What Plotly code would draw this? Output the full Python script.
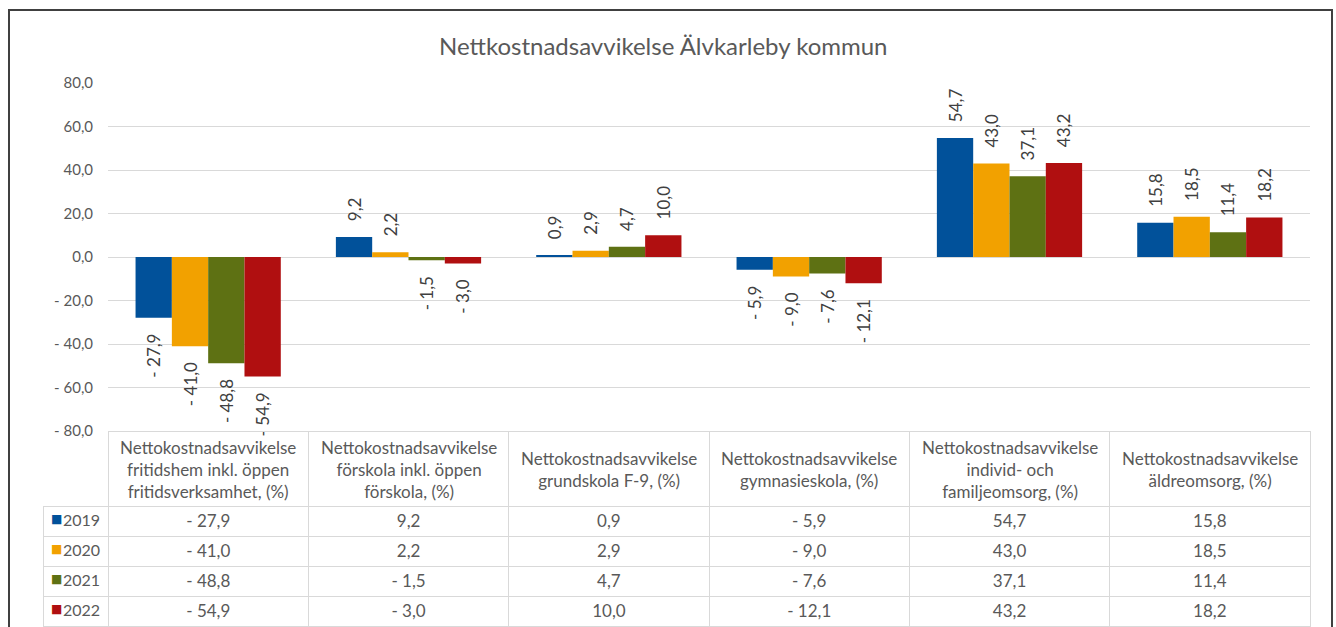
import plotly.graph_objects as go

W, H = 1336, 627

categories = [
    "Nettokostnadsavvikelse<br>fritidshem inkl. öppen<br>fritidsverksamhet, (%)",
    "Nettokostnadsavvikelse<br>förskola inkl. öppen<br>förskola, (%)",
    "Nettokostnadsavvikelse<br>grundskola F-9, (%)",
    "Nettokostnadsavvikelse<br>gymnasieskola, (%)",
    "Nettokostnadsavvikelse<br>individ- och<br>familjeomsorg, (%)",
    "Nettokostnadsavvikelse<br>äldreomsorg, (%)",
]
years = ["2019", "2020", "2021", "2022"]
v2019 = [-27.9, 9.2, 0.9, -5.9, 54.7, 15.8]
v2020 = [-41.0, 2.2, 2.9, -9.0, 43.0, 18.5]
v2021 = [-48.8, -1.5, 4.7, -7.6, 37.1, 11.4]
v2022 = [-54.9, -3.0, 10.0, -12.1, 43.2, 18.2]
series = [v2019, v2020, v2021, v2022]
colors = ["#01519a", "#f2a100", "#5e7113", "#b00f10"]
tick_vals = [-80, -60, -40, -20, 0, 20, 40, 60, 80]
tick_text = ["- 80,0", "- 60,0", "- 40,0", "- 20,0", "0,0", "20,0", "40,0", "60,0", "80,0"]

FONT = "Lato"
GREY = "#595959"
CLEAR = "rgba(0,0,0,0)"
PAD = "\u2002\u00a0"


def fmt(v):
    s = f"{abs(v):.1f}".replace(".", ",")
    return ("- " + s) if v < 0 else s


def px_x(p):
    return p / W


def px_y(p):
    return 1 - p / H


fig = go.Figure()
xs = list(range(len(categories)))
for yr, vals, col in zip(years, series, colors):
    labels = [(PAD + fmt(v)) if v >= 0 else (fmt(v) + PAD) for v in vals]
    fig.add_trace(go.Bar(
        x=xs, y=vals, name=yr, marker=dict(color=col, line=dict(width=0)),
        text=labels, textposition="outside", textangle=-90,
        textfont=dict(family=FONT, size=17, color="#404040"),
        cliponaxis=False, constraintext="none",
    ))

# data table (header text drawn as annotations so it can be vertically centred)
ncat = len(categories)
cols = [years] + [[fmt(s[i]) for s in series] for i in range(ncat)]
fig.add_trace(go.Table(
    domain=dict(x=[px_x(43), px_x(1310)], y=[0, px_y(431)]),
    columnwidth=[65] + [200] * ncat,
    header=dict(values=[""] * (ncat + 1), height=75,
                fill=dict(color=CLEAR),
                line=dict(color=[CLEAR] + ["#d9d9d9"] * ncat, width=1)),
    cells=dict(values=cols, height=30, align=["right"] + ["center"] * ncat,
               fill=dict(color="white"), line=dict(color="#d9d9d9", width=1),
               font=dict(family=FONT, size=[16] + [17] * ncat, color=GREY)),
))
# legend keys overlay (transparent table holding the coloured squares)
fig.add_trace(go.Table(
    domain=dict(x=[px_x(43), px_x(64)], y=[0, px_y(431)]),
    header=dict(values=[""], height=75, fill=dict(color=CLEAR), line=dict(color=CLEAR)),
    cells=dict(values=[["■"] * len(years)], height=30, align="left",
               fill=dict(color=CLEAR), line=dict(color=CLEAR),
               font=dict(family="DejaVu Sans", size=12, color=[colors])),
))

annotations = [dict(text="Nettkostnadsavvikelse Älvkarleby kommun", x=px_x(663), y=px_y(45),
                    xref="paper", yref="paper", showarrow=False, xanchor="center", yanchor="middle",
                    font=dict(family=FONT, size=24, color=GREY))]
for i, c in enumerate(categories):
    annotations.append(dict(text=c, x=i, y=px_y(469), xref="x", yref="paper", showarrow=False,
                            xanchor="center", yanchor="middle", align="center",
                            font=dict(family=FONT, size=17, color=GREY)))

fig.update_layout(
    width=W, height=H, autosize=False,
    margin=dict(l=0, r=0, t=0, b=0, pad=0, autoexpand=False),
    paper_bgcolor="white", plot_bgcolor="white",
    barmode="group", bargap=0.275, bargroupgap=0,
    showlegend=False,
    font=dict(family=FONT, color=GREY),
    xaxis=dict(domain=[px_x(108), px_x(1310)], range=[-0.5, 5.5], showticklabels=False,
               showgrid=False, zeroline=False, showline=False, ticks="", automargin=False),
    yaxis=dict(domain=[px_y(431), px_y(83)], range=[-80, 80], tickvals=tick_vals,
               ticktext=tick_text, showgrid=True, gridcolor="#d9d9d9", gridwidth=1,
               zeroline=True, zerolinecolor="#d9d9d9", zerolinewidth=1, automargin=False,
               tickfont=dict(family=FONT, size=15, color=GREY), ticklabelstandoff=14),
    annotations=annotations,
    shapes=[dict(type="rect", xref="paper", yref="paper", x0=px_x(9), x1=px_x(1332),
                 y0=-0.2, y1=px_y(10), line=dict(color="#404040", width=2))],
)

post = (
    "document.documentElement.style.margin='0';"
    "document.documentElement.style.overflow='hidden';"
    "document.body.style.margin='0';"
    "document.body.style.overflow='hidden';"
    "var d=document.querySelector('.plotly-graph-div');"
    "d.style.position='fixed';d.style.top='0px';d.style.left='0px';"
)
fig.write_html("out.html", config={"displayModeBar": False}, post_script=post)
